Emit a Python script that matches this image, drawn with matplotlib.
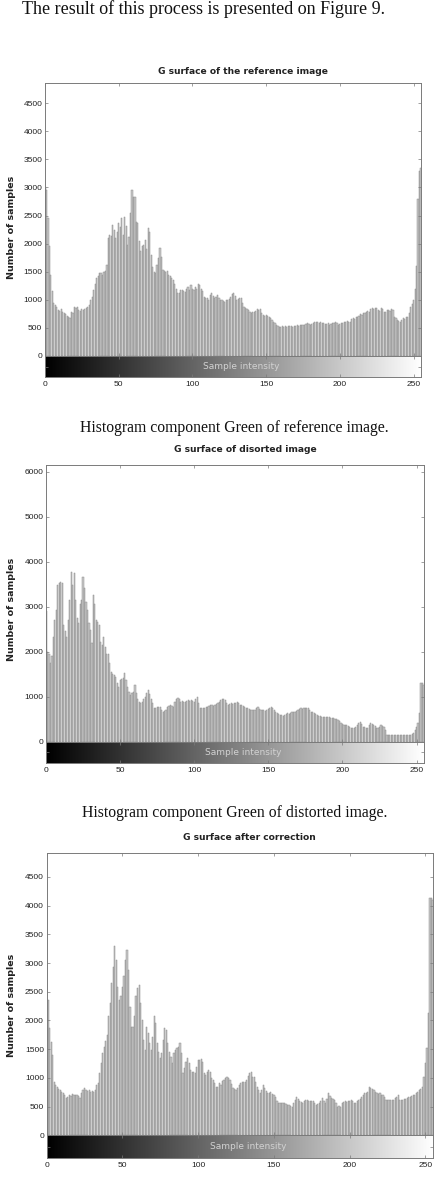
import numpy as np
import matplotlib
matplotlib.use("Agg")
import matplotlib.pyplot as plt

intensity = list(range(256))

g_reference = [
    3000, 2950, 2450, 1950, 1450, 1150, 950, 900, 870, 820,
    800, 830, 790, 760, 740, 720, 700, 680, 780, 760,
    870, 860, 880, 820, 800, 830, 810, 830, 860, 880,
    900, 1000, 1050, 1170, 1280, 1380, 1420, 1470, 1480, 1450,
    1500, 1520, 1620, 2100, 2150, 2130, 2330, 2250, 2100, 2200,
    2360, 2300, 2450, 2150, 2480, 2320, 1980, 2120, 2550, 2950,
    2830, 2830, 2380, 2360, 2050, 1860, 1950, 1980, 2060, 1900,
    2270, 2200, 1800, 1590, 1500, 1470, 1620, 1750, 1915, 1770,
    1530, 1520, 1500, 1520, 1440, 1420, 1380, 1350, 1290, 1200,
    1115, 1120, 1170, 1175, 1160, 1145, 1200, 1230, 1180, 1260,
    1200, 1175, 1230, 1200, 1290, 1260, 1200, 1150, 1055, 1040,
    1025, 1000, 1080, 1115, 1060, 1025, 1050, 1085, 1040, 1000,
    990, 975, 965, 990, 1000, 1010, 1050, 1100, 1115, 1060,
    1000, 1010, 1040, 1025, 950, 880, 850, 830, 820, 790,
    760, 780, 790, 800, 830, 820, 830, 760, 730, 720,
    730, 710, 700, 680, 640, 610, 580, 550, 540, 520,
    515, 525, 520, 530, 520, 525, 540, 530, 520, 530,
    540, 550, 530, 545, 560, 550, 560, 570, 580, 575,
    560, 575, 590, 600, 610, 600, 590, 600, 580, 590,
    575, 570, 580, 560, 575, 590, 580, 600, 590, 560,
    575, 590, 580, 600, 610, 620, 610, 600, 650, 680,
    660, 700, 690, 720, 740, 730, 760, 770, 790, 800,
    780, 830, 850, 830, 860, 850, 820, 800, 850, 830,
    790, 780, 810, 820, 800, 830, 810, 700, 670, 640,
    620, 600, 640, 670, 660, 690, 700, 760, 870, 930,
    1000, 1200, 1600, 2800, 3300, 3350,
]

g_distorted = [
    2900, 2000, 1950, 1750, 1900, 2330, 2700, 2930, 3480, 3530,
    3560, 3520, 2590, 2450, 2330, 2700, 3150, 3780, 3480, 3740,
    3150, 2740, 2630, 3070, 3150, 3670, 3410, 3110, 2930, 2630,
    2480, 2190, 3260, 3050, 2700, 2650, 2590, 2220, 2150, 2330,
    2100, 1960, 1950, 1740, 1555, 1500, 1480, 1445, 1300, 1220,
    1370, 1400, 1410, 1520, 1370, 1220, 1100, 1040, 1080, 1110,
    1260, 1075, 950, 890, 870, 890, 960, 1000, 1075, 1150,
    1050, 960, 850, 740, 760, 780, 770, 780, 700, 670,
    680, 700, 780, 800, 815, 800, 780, 880, 960, 970,
    960, 890, 900, 890, 880, 910, 925, 900, 925, 910,
    890, 950, 1000, 870, 740, 740, 750, 740, 770, 780,
    800, 815, 810, 800, 815, 830, 850, 880, 925, 960,
    950, 925, 870, 815, 840, 850, 830, 850, 870, 890,
    860, 820, 815, 800, 780, 760, 740, 720, 700, 710,
    700, 700, 740, 780, 730, 700, 710, 700, 690, 700,
    720, 760, 780, 740, 700, 660, 630, 610, 600, 590,
    580, 590, 610, 630, 620, 630, 650, 660, 670, 690,
    700, 720, 740, 730, 740, 750, 740, 740, 700, 670,
    650, 630, 610, 590, 580, 570, 555, 560, 555, 550,
    555, 540, 520, 530, 520, 510, 500, 480, 450, 410,
    390, 370, 380, 370, 340, 320, 300, 310, 300, 330,
    370, 420, 445, 400, 330, 320, 300, 310, 380, 410,
    390, 370, 340, 310, 300, 330, 370, 350, 330, 250,
    150, 150, 160, 150, 155, 150, 160, 150, 155, 150,
    150, 160, 150, 155, 150, 160, 150, 170, 185, 250,
    330, 420, 640, 1300, 1300, 1250,
]

g_corrected = [
    4420, 2360, 1865, 1630, 1400, 935, 880, 850, 800, 790,
    760, 730, 700, 645, 675, 700, 690, 720, 700, 710,
    700, 680, 645, 730, 790, 820, 790, 770, 790, 760,
    780, 760, 790, 880, 905, 1080, 1255, 1430, 1545, 1650,
    1750, 2070, 2300, 2650, 2940, 3290, 3060, 2590, 2360, 2420,
    2590, 2770, 3060, 3230, 2880, 2240, 1890, 1890, 2070, 2420,
    2560, 2620, 2300, 2010, 1660, 1490, 1890, 1780, 1600, 1490,
    1720, 2070, 1950, 1600, 1450, 1340, 1430, 1660, 1865, 1835,
    1600, 1450, 1370, 1255, 1430, 1490, 1520, 1545, 1600, 1430,
    1080, 1170, 1285, 1340, 1255, 1140, 1110, 1110, 1080, 1195,
    1310, 1320, 1325, 1285, 1080, 1050, 1100, 1140, 1110, 990,
    965, 905, 850, 850, 905, 880, 940, 970, 990, 1020,
    990, 965, 900, 820, 800, 790, 830, 870, 905, 920,
    935, 935, 965, 1030, 1080, 1110, 1020, 1020, 930, 850,
    790, 730, 790, 880, 820, 780, 730, 740, 760, 720,
    700, 675, 600, 560, 560, 560, 570, 560, 545, 530,
    520, 510, 500, 560, 615, 675, 630, 590, 575, 560,
    590, 610, 615, 600, 590, 600, 590, 560, 530, 545,
    560, 600, 645, 600, 560, 640, 730, 690, 645, 630,
    615, 560, 500, 510, 500, 560, 580, 590, 580, 590,
    600, 615, 590, 570, 560, 590, 615, 640, 675, 700,
    730, 740, 760, 850, 820, 800, 790, 750, 730, 720,
    730, 710, 700, 660, 615, 620, 615, 615, 620, 615,
    650, 675, 700, 615, 620, 615, 630, 640, 645, 660,
    675, 690, 700, 710, 730, 760, 790, 800, 850, 1020,
    1260, 1520, 2130, 4130, 4130, 4100,
]

titles = ["G surface of the reference image",
          "G surface of disorted image",
          "G surface after correction"]
captions = ["Histogram component Green of reference image.",
            "Histogram component Green of distorted image."]
y_ticks = [list(range(0, 4501, 500)),
           list(range(0, 6001, 1000)),
           list(range(0, 4501, 500))]
x_ticks = [0, 50, 100, 150, 200, 250]

W, H = 439, 1184
fig = plt.figure(figsize=(W / 100, H / 100), dpi=100)

def fx(px):
    return px / W

def fy(py):
    return 1 - py / H

# pixel layout: left, right, top, zero-line, bar bottom, ymax
layout = [
    (45, 421, 83, 356, 377, 4858),
    (46, 424, 465, 741.7, 763, 6149),
    (46.7, 433, 853, 1135.3, 1158, 4918),
]
title_y = [71.5, 450, 837]
ylabel_y = [227, 609, 1005]
caption_y = [428, 813]

spine_col = "#7a7a7a"
data = [g_reference, g_distorted, g_corrected]
grad = np.linspace(0, 1, 256).reshape(1, -1)

for k in range(3):
    l, r, t, z, b, ymax = layout[k]
    ax = fig.add_axes([fx(l), fy(z), fx(r) - fx(l), (z - t) / H])
    ax.bar(intensity, data[k], width=0.78, color="#c8c8c8",
           edgecolor="#8c8c8c", linewidth=0.35, align="center")
    ax.set_xlim(0, 255)
    ax.set_ylim(0, ymax)
    ax.set_yticks(y_ticks[k])
    ax.set_yticklabels([str(v) for v in y_ticks[k]], fontsize=6,
                       family="Liberation Sans", color="#222222")
    ax.set_xticks(x_ticks)
    ax.tick_params(axis="both", direction="in", length=2.5, width=0.5,
                   color=spine_col, top=True, right=True, bottom=True,
                   labelbottom=False, pad=2)
    for s in ax.spines.values():
        s.set_color(spine_col)
        s.set_linewidth(0.7)

    bax = fig.add_axes([fx(l), fy(b), fx(r) - fx(l), (b - z) / H])
    bax.imshow(grad, cmap="gray", aspect="auto", extent=[0, 255, 0, 1],
               vmin=0, vmax=1)
    bax.set_xlim(0, 255)
    bax.set_ylim(0, 1)
    bax.set_xticks(x_ticks)
    bax.set_xticklabels([str(v) for v in x_ticks], fontsize=6,
                        family="Liberation Sans", color="#222222")
    bax.set_yticks([0.5])
    bax.set_yticklabels([])
    bax.tick_params(axis="both", direction="in", length=2.5, width=0.5,
                    color=spine_col, top=True, right=True, pad=3)
    for s in bax.spines.values():
        s.set_color(spine_col)
        s.set_linewidth(0.7)
    bax.text(133, 0.5, "Sample intensity", ha="center", va="center",
             fontsize=6.5, color="#d2d2d2", family="DejaVu Sans")

    fig.text(fx((l + r) / 2 + 10), fy(title_y[k]), titles[k],
             ha="center", va="center", fontsize=6.6, fontweight="bold",
             family="DejaVu Sans", color="#222222")
    fig.text(fx(12), fy(ylabel_y[k]), "Number of samples", rotation=90,
             ha="center", va="center", fontsize=6.8, fontweight="bold",
             family="DejaVu Sans", color="#222222")

for k in range(2):
    fig.text(fx(234.5), fy(caption_y[k]), captions[k], ha="center",
             va="center", fontsize=11.3, family="Liberation Serif",
             color="#111111")

fig.text(fx(385), fy(14), "The result of this process is presented on Figure 9.",
         ha="right", va="baseline", fontsize=13, family="Liberation Serif",
         color="#111111")

fig.savefig("out.png", dpi=100)
